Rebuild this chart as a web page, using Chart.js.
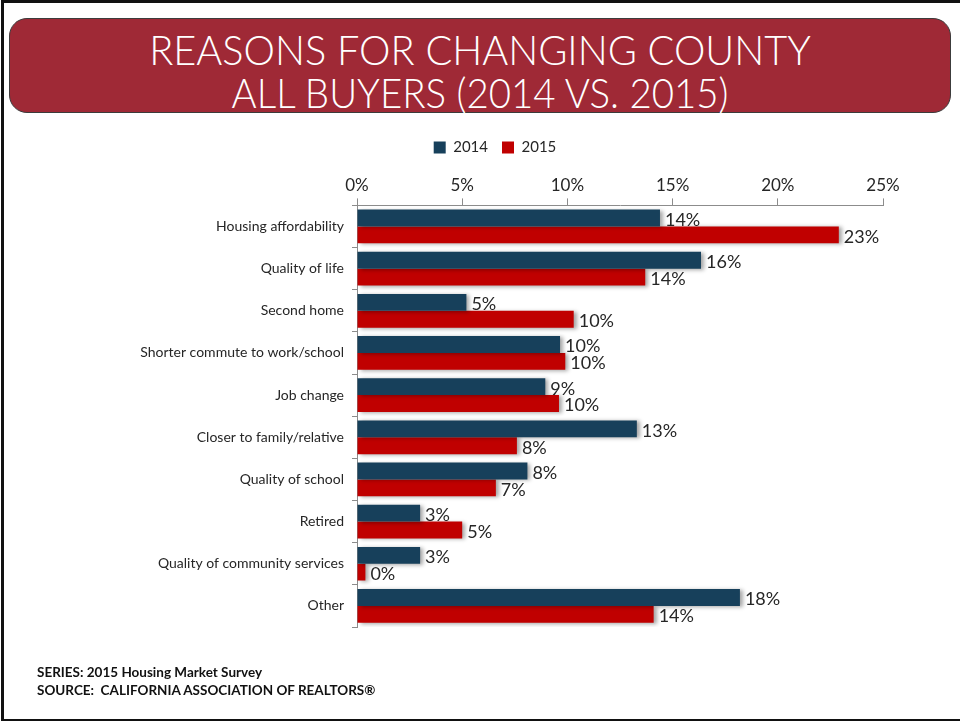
<!DOCTYPE html>
<html>
<head>
<meta charset="utf-8">
<script src="https://cdn.jsdelivr.net/npm/chart.js@4"></script>
<style>
  html, body { margin: 0; padding: 0; background: #fff; }
  body { width: 960px; height: 721px; position: relative; overflow: hidden; font-family: Lato, sans-serif; }
  #frame { position: absolute; left: 1px; top: 0px; width: 965px; height: 716px; border-top: 3px solid #111; border-left: 3px solid #111; border-bottom: 3px solid #111; }
  #banner { position: absolute; left: 9px; top: 18px; width: 942px; height: 95px; background: #9f2936; border: 1px solid #3c3c3c; border-radius: 18px; box-sizing: border-box; }
  #banner div { position: absolute; left: 0; width: 100%; text-align: center; color: #fff; font-family: Lato, sans-serif; font-size: 42px; line-height: 42px; font-weight: 300; }
  #t1 { top: 9px; transform: scaleX(0.945); }
  #t2 { top: 52px; transform: scaleX(0.915); }
  #wrap { position: absolute; left: 107px; top: 0; width: 853px; height: 721px; }
  #footer { position: absolute; left: 37px; top: 663px; font-weight: bold; font-size: 13.5px; line-height: 18px; color: #111; }
</style>
</head>
<body>
<div id="frame"></div>
<div id="banner">
  <div id="t1">REASONS FOR CHANGING COUNTY</div>
  <div id="t2">ALL BUYERS (2014 VS. 2015)</div>
</div>
<div id="wrap"><canvas id="chart" width="853" height="721"></canvas></div>
<div id="footer">SERIES: 2015 Housing Market Survey<br>SOURCE:&nbsp; CALIFORNIA ASSOCIATION OF REALTORS®</div>
<script>
// Categories and values (percent of buyers)
const reasons = [
    "Housing affordability",
    "Quality of life",
    "Second home",
    "Shorter commute to work/school",
    "Job change",
    "Closer to family/relative",
    "Quality of school",
    "Retired",
    "Quality of community services",
    "Other"
];
const values2014 = [14.4, 16.35, 5.2, 9.65, 8.95, 13.3, 8.1, 3.0, 3.0, 18.2];
const values2015 = [22.9, 13.7, 10.3, 9.9, 9.6, 7.6, 6.6, 5.0, 0.4, 14.1];
const xTicks = [0, 5, 10, 15, 20, 25];

// Colors
const COLOR_2014 = "#17405b";
const COLOR_2015 = "#c00000";
const COLOR_AXIS = "#8c8c8c";

// soft shadow behind the bars
const barShadow = {
    id: "barShadow",
    beforeDatasetDraw(chart) {
        const ctx = chart.ctx;
        ctx.save();
        ctx.shadowColor = "rgba(0,0,0,0.35)";
        ctx.shadowBlur = 4;
        ctx.shadowOffsetX = 3;
        ctx.shadowOffsetY = 1;
    },
    afterDatasetDraw(chart) {
        chart.ctx.restore();
    }
};

// value labels at the bar ends
const valueLabels = {
    id: "valueLabels",
    afterDatasetsDraw(chart) {
        const ctx = chart.ctx;
        ctx.save();
        ctx.font = "18px Lato";
        ctx.fillStyle = "#262626";
        ctx.textAlign = "left";
        ctx.textBaseline = "middle";
        chart.data.datasets.forEach((ds, i) => {
            chart.getDatasetMeta(i).data.forEach((bar, j) => {
                ctx.fillText(Math.round(ds.data[j]) + "%", bar.x + 5, bar.y + 2);
            });
        });
        ctx.restore();
    }
};

new Chart("chart", {
    type: "bar",
    data: {
        labels: reasons,
        datasets: [{
            label: "2014",
            data: values2014,
            backgroundColor: COLOR_2014,
            categoryPercentage: 0.8,
            barPercentage: 1.0
        },
        {
            label: "2015",
            data: values2015,
            backgroundColor: COLOR_2015,
            categoryPercentage: 0.8,
            barPercentage: 1.0
        }]
    },
    options: {
        indexAxis: "y",
        responsive: false,
        animation: false,
        devicePixelRatio: 1,
        layout: {
            padding: { top: 126, right: 77, bottom: 94, left: 0 }
        },
        plugins: {
            legend: {
                position: "top",
                labels: {
                    boxWidth: 12,
                    boxHeight: 12,
                    padding: 14,
                    color: "#262626",
                    font: { family: "Lato", size: 15 }
                }
            },
            tooltip: { enabled: false }
        },
        scales: {
            x: {
                position: "top",
                min: 0,
                max: 25,
                afterBuildTicks(scale) {
                    scale.ticks = xTicks.map(v => ({ value: v }));
                },
                // empty title used only as spacing above the tick labels
                title: {
                    display: true,
                    text: "",
                    padding: 0,
                    font: { size: 7, lineHeight: 1 }
                },
                ticks: {
                    callback: v => v + "%",
                    color: "#262626",
                    padding: 3,
                    font: { family: "Lato", size: 17 }
                },
                grid: {
                    drawOnChartArea: false,
                    tickLength: 7,
                    color: COLOR_AXIS
                },
                border: { color: COLOR_AXIS }
            },
            y: {
                afterFit(scale) {
                    scale.width = 250;
                },
                ticks: {
                    color: "#262626",
                    padding: 8,
                    font: { family: "Lato", size: 14 }
                },
                grid: {
                    drawOnChartArea: false,
                    tickLength: 5,
                    color: COLOR_AXIS
                },
                border: { color: COLOR_AXIS }
            }
        }
    },
    plugins: [barShadow, valueLabels]
});
</script>
</body>
</html>
